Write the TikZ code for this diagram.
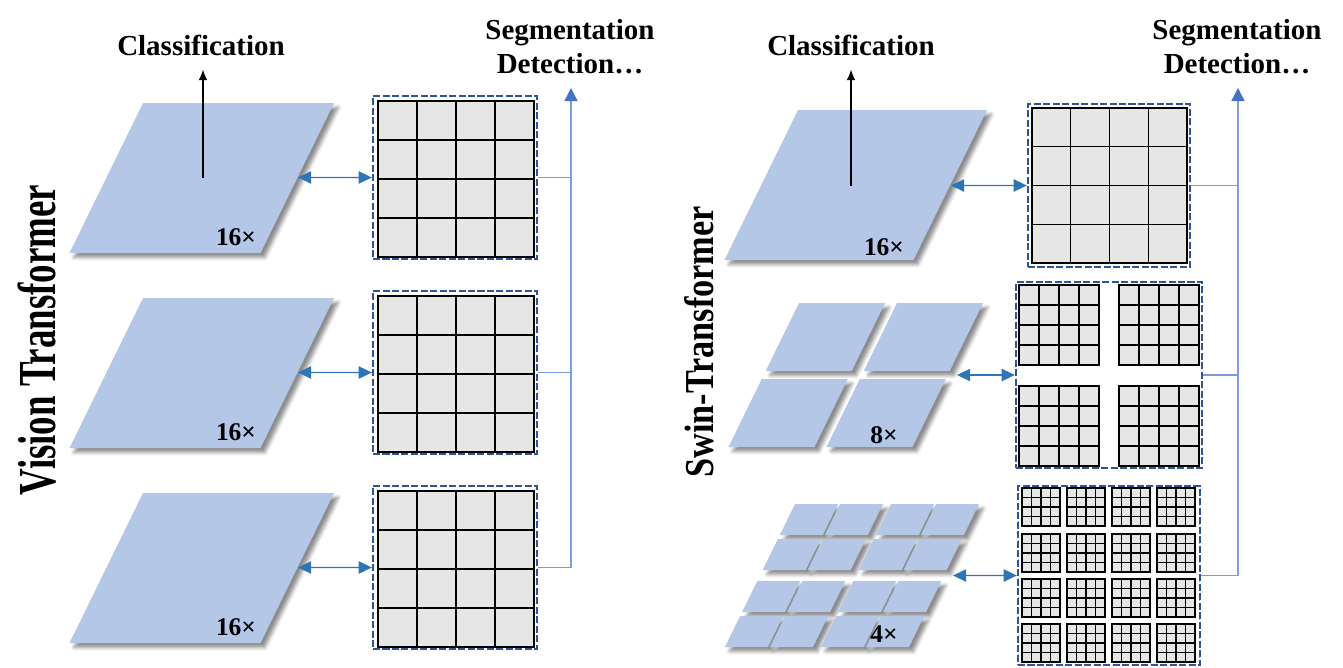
\documentclass[tikz,border=0pt]{standalone}
\usepackage{fontspec}
\setmainfont{Liberation Serif}
\usetikzlibrary{arrows.meta,fit,shadows.blur}

\definecolor{patchblue}{HTML}{B4C7E7}
\definecolor{cellgray}{HTML}{E6E6E6}
\definecolor{boxblue}{HTML}{2F5597}
\definecolor{linkblue}{HTML}{2E75B6}
\definecolor{trunkblue}{HTML}{7B9EDB}
\definecolor{headblue}{HTML}{4472C4}

\tikzset{
  patch/.style={fill=patchblue, blur shadow={shadow xshift=2.5pt, shadow yshift=-2.5pt, shadow blur radius=2pt, shadow opacity=45}},
  cellline/.style={line width=0.75pt, line cap=rect},
  windowbox/.style={draw=boxblue, line width=1.3pt, dash pattern=on 4pt off 1.4pt, inner sep=0pt, fit={#1}},
  duplex/.style={draw=linkblue, line width=0.8pt, {Triangle[length=7.5pt,width=7pt]}-{Triangle[length=7.5pt,width=7pt]}},
  trunk/.style={draw=trunkblue, line width=0.8pt},
  trunkhead/.style={-{Triangle[length=7.5pt,width=7.5pt,color=headblue]}},
  task/.style={font=\fontsize{16.5}{19.5}\selectfont\bfseries, align=center, inner sep=2pt},
  clsarrow/.style={draw=black, line width=0.6pt, -{Latex[length=6pt,width=5pt]}, shorten >=6pt},
  times/.style={font=\fontsize{14.5}{16}\selectfont\bfseries, inner sep=0pt}
}

% square window of n x n cells, top-left corner #1,#2, side #3
\newcommand{\patchgrid}[4]{%
  \fill[cellgray] (#1,#2) rectangle ++(#3,#3);
  \foreach \k in {0,...,#4} {
    \draw[cellline] ({#1+\k*#3/#4},#2) -- ++(0,#3);
    \draw[cellline] (#1,{#2+\k*#3/#4}) -- ++(#3,0);
  }
}

\begin{document}
\begin{tikzpicture}[x=0.02cm, y=-0.02cm]
  \useasboundingbox (0,0) rectangle (1343,667);

  % Vision Transformer
  \node[rotate=90, font=\fontsize{21}{24}\selectfont\bfseries] (vitname) at (37,340) {\scalebox{1}[1.45]{Vision Transformer}};
  \foreach \j in {0,1,2} {
    \begin{scope}[shift={(143,{103+195*\j})}, xslant=0.49]
      \fill[patch] (0,0) rectangle (191,150);
    \end{scope}
    \node[times] (vtimes\j) at (236,{237+195*\j}) {16×};
    \patchgrid{378}{101+195*\j}{156}{4}
    \node[windowbox={(373,{96+195*\j}) (537,{259+195*\j})}] (vbox\j) {};
    \coordinate (vedge\j) at (298,{177.5+195*\j});
    \draw[duplex] (vedge\j) -- (vbox\j.west);
  }
  \node[task, anchor=base] (vcls) at (201,55) {Classification};
  \node[task] (vseg) at (570,47) {Segmentation\\Detection…};
  \coordinate (vcenter) at (203,178);
  \draw[clsarrow] (vcenter) -- (vcenter |- vcls.south);
  \coordinate (vtrunktop) at (571,88);
  \draw[trunk] (vbox0.east) -- (vbox0.east -| vtrunktop);
  \draw[trunk] (vbox1.east) -- (vbox1.east -| vtrunktop);
  \draw[trunk, trunkhead] (vbox2.east) -| (vtrunktop);

  % Swin-Transformer
  \node[rotate=90, font=\fontsize{19.5}{22}\selectfont\bfseries] (swinname) at (699,342) {\scalebox{1}[1.2]{Swin-Transformer}};
  \begin{scope}[shift={(798,110)}, xslant=0.49]
    \fill[patch] (0,0) rectangle (189,150);
  \end{scope}
  \begin{scope}[shift={(799,303)}, xslant=0.49]
    \foreach \v in {0,76} \foreach \u in {0,98}
      \fill[patch] (\u,\v) rectangle ++(86,68);
  \end{scope}
  \begin{scope}[shift={(795,504)}, xslant=0.49]
    \foreach \v in {0,35,77,112} \foreach \u in {0,45,96,141}
      \fill[patch] (\u,\v) rectangle ++(43,31);
  \end{scope}
  \node[times] (stimes0) at (884,247) {16×};
  \node[times] (stimes1) at (884,435) {8×};
  \node[times] (stimes2) at (884,634) {4×};

  \patchgrid{1032}{108}{155}{4}
  \node[windowbox={(1028,104) (1190,267)}] (sbox0) {};
  \foreach \x in {1019,1119} \foreach \y in {285,386}
    \patchgrid{\x}{\y}{80}{4}
  \node[windowbox={(1016,282) (1202,468)}] (sbox1) {};
  \foreach \x in {1022,1067,1112,1157} \foreach \y in {488,534,579,624}
    \patchgrid{\x}{\y}{38}{4}
  \node[windowbox={(1018,486) (1200,665)}] (sbox2) {};

  \coordinate (sedge0) at (951,185.5);
  \coordinate (sedge1) at (957,375);
  \coordinate (sedge2) at (953,575.5);
  \foreach \j in {0,1,2}
    \draw[duplex] (sedge\j) -- (sbox\j.west);

  \node[task, anchor=base] (scls) at (851,55) {Classification};
  \node[task] (sseg) at (1237,47) {Segmentation\\Detection…};
  \coordinate (scenter) at (851,186);
  \draw[clsarrow] (scenter) -- (scenter |- scls.south);
  \coordinate (strunktop) at (1238,88);
  \draw[trunk] (sbox0.east) -- (sbox0.east -| strunktop);
  \draw[trunk] (sbox1.east) -- (sbox1.east -| strunktop);
  \draw[trunk, trunkhead] (sbox2.east) -| (strunktop);
\end{tikzpicture}
\end{document}
